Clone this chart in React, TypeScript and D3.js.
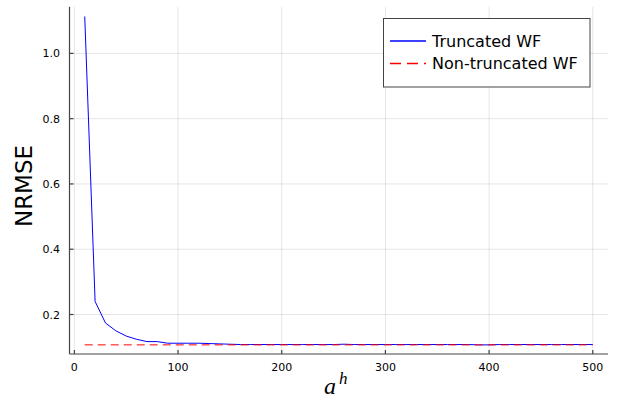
import React from "react";
import * as d3 from "d3";

// a^h sample points
const aH = [
  10, 20, 30, 40, 50, 60, 70, 80, 90, 100,
  110, 120, 130, 140, 150, 160, 170, 180, 190, 200,
  210, 220, 230, 240, 250, 260, 270, 280, 290, 300,
  310, 320, 330, 340, 350, 360, 370, 380, 390, 400,
  410, 420, 430, 440, 450, 460, 470, 480, 490, 500,
];

// NRMSE of the truncated Wiener filter
const truncatedWF = [
  1.113, 0.24, 0.174, 0.15, 0.134, 0.124, 0.117, 0.117, 0.112, 0.112,
  0.112, 0.112, 0.111, 0.11, 0.109, 0.108, 0.108, 0.108, 0.108, 0.108,
  0.108, 0.108, 0.108, 0.108, 0.108, 0.109, 0.108, 0.108, 0.108, 0.108,
  0.108, 0.108, 0.108, 0.108, 0.108, 0.108, 0.108, 0.108, 0.107, 0.107,
  0.108, 0.108, 0.108, 0.108, 0.108, 0.108, 0.108, 0.108, 0.108, 0.108,
];

// NRMSE of the non-truncated Wiener filter
const nonTruncatedWF = [
  0.107, 0.107, 0.107, 0.107, 0.107, 0.107, 0.107, 0.107, 0.107, 0.107,
  0.107, 0.107, 0.107, 0.107, 0.107, 0.107, 0.107, 0.107, 0.107, 0.107,
  0.107, 0.107, 0.107, 0.107, 0.107, 0.107, 0.107, 0.107, 0.107, 0.107,
  0.107, 0.107, 0.107, 0.107, 0.107, 0.107, 0.107, 0.107, 0.107, 0.107,
  0.107, 0.107, 0.107, 0.107, 0.107, 0.107, 0.107, 0.107, 0.107, 0.107,
];

const xTicks = [0, 100, 200, 300, 400, 500];
const yTicks = [0.2, 0.4, 0.6, 0.8, 1.0];
const seriesNames = ["Truncated WF", "Non-truncated WF"];

const W = 630;
const H = 400;
const left = 69.5;
const right = 608;
const top = 6.7;
const bottom = 354;

const FONT = "'DejaVu Sans', sans-serif";
const MATH_FONT = "'Liberation Serif', 'DejaVu Serif', serif";

export default function App() {
  const x = d3.scaleLinear().domain([-4.7, 514.7]).range([left, right]);
  const y = d3.scaleLinear().domain([0.079, 1.143]).range([bottom, top]);

  const line = d3
    .line<[number, number]>()
    .x((d) => x(d[0]))
    .y((d) => y(d[1]));

  const blue = line(aH.map((a, i) => [a, truncatedWF[i]] as [number, number])) || "";
  const red = line(aH.map((a, i) => [a, nonTruncatedWF[i]] as [number, number])) || "";

  return (
    <svg
      width={W}
      height={H}
      style={{ position: "absolute", left: 0, top: 0, background: "#fff" }}
      fontFamily={FONT}
    >
      <rect x={0} y={0} width={W} height={H} fill="#fff" />

      {/* grid */}
      <g stroke="#000" strokeOpacity={0.1} strokeWidth={1}>
        {xTicks.map((t) => (
          <line key={"gx" + t} x1={x(t)} x2={x(t)} y1={top} y2={bottom} />
        ))}
        {yTicks.map((t) => (
          <line key={"gy" + t} x1={left} x2={right} y1={y(t)} y2={y(t)} />
        ))}
      </g>

      {/* series */}
      <path d={blue} fill="none" stroke="#0000ff" strokeWidth={1} />
      <path d={red} fill="none" stroke="#ff0000" strokeWidth={1} strokeDasharray="8 5" />

      {/* axes */}
      <g stroke="#444" strokeWidth={1.2}>
        <line x1={left} x2={right} y1={bottom} y2={bottom} />
        <line x1={left} x2={left} y1={top} y2={bottom} />
        {xTicks.map((t) => (
          <line key={"tx" + t} x1={x(t)} x2={x(t)} y1={bottom} y2={bottom - 4} />
        ))}
        {yTicks.map((t) => (
          <line key={"ty" + t} x1={left} x2={left + 4} y1={y(t)} y2={y(t)} />
        ))}
      </g>

      {/* tick labels */}
      <g fontSize={11} fill="#000">
        {xTicks.map((t) => (
          <text key={"lx" + t} x={x(t)} y={371} textAnchor="middle">
            {d3.format("d")(t)}
          </text>
        ))}
        {yTicks.map((t) => (
          <text key={"ly" + t} x={60} y={y(t) + 4} textAnchor="end">
            {d3.format(".1f")(t)}
          </text>
        ))}
      </g>

      {/* axis titles */}
      <text
        transform={`translate(31.5, 186) rotate(-90)`}
        textAnchor="middle"
        fontSize={23}
        fill="#000"
      >
        NRMSE
      </text>
      <text x={324} y={394} fontFamily={MATH_FONT} fontStyle="italic" fontSize={24} fill="#000">
        a
      </text>
      <text x={339} y={384} fontFamily={MATH_FONT} fontStyle="italic" fontSize={17} fill="#000">
        h
      </text>

      {/* legend */}
      <rect x={383.5} y={18.5} width={206.5} height={68.5} fill="#fff" stroke="#444" strokeWidth={1} />
      <line x1={390} x2={426} y1={41} y2={41} stroke="#0000ff" strokeWidth={1.3} />
      <line x1={390} x2={426} y1={63.5} y2={63.5} stroke="#ff0000" strokeWidth={1.3} strokeDasharray="11 6" />
      <text x={432} y={46.5} fontSize={16} fill="#000">
        {seriesNames[0]}
      </text>
      <text x={432} y={69} fontSize={16} fill="#000">
        {seriesNames[1]}
      </text>
    </svg>
  );
}
